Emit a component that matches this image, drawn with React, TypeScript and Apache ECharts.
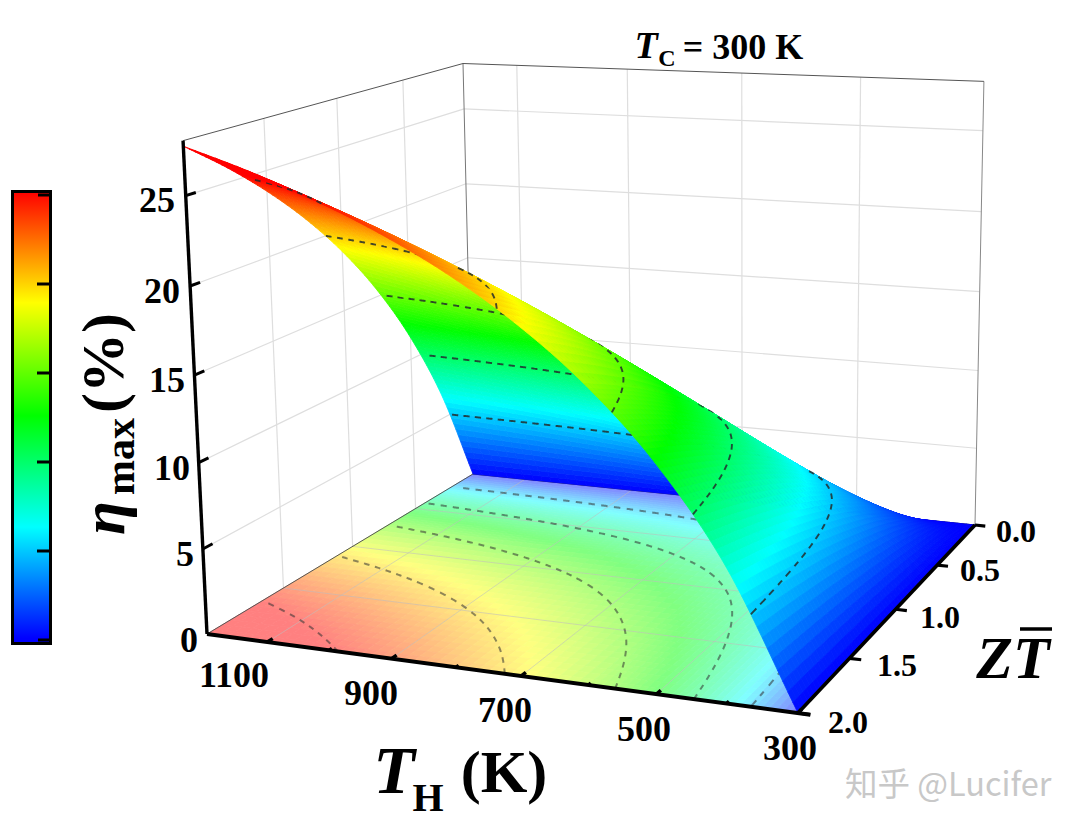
import React, { useEffect, useRef } from "react";
import * as echarts from "echarts";

// ---- data ----
const thValues = [300, 400, 500, 600, 700, 800, 900, 1000, 1100, 1200];
const ztValues = [0, 0.25, 0.5, 0.75, 1, 1.25, 1.5, 1.75, 2];
const eta300 = [0, 0, 0, 0, 0, 0, 0, 0, 0];
const eta400 = [0, 1.58, 2.85, 3.89, 4.78, 5.56, 6.23, 6.83, 7.37];
const eta500 = [0, 2.75, 4.93, 6.72, 8.23, 9.52, 10.66, 11.66, 12.56];
const eta600 = [0, 3.65, 6.51, 8.86, 10.82, 12.5, 13.96, 15.25, 16.4];
const eta700 = [0, 4.36, 7.77, 10.53, 12.84, 14.81, 16.52, 18.03, 19.36];
const eta800 = [0, 4.94, 8.78, 11.89, 14.47, 16.67, 18.57, 20.23, 21.72];
const eta900 = [0, 5.42, 9.62, 13.0, 15.8, 18.18, 20.24, 22.04, 23.63];
const eta1000 = [0, 5.83, 10.32, 13.93, 16.91, 19.44, 21.63, 23.53, 25.22];
const eta1100 = [0, 6.17, 10.91, 14.72, 17.86, 20.51, 22.8, 24.79, 26.56];
const eta1200 = [0, 6.47, 11.43, 15.4, 18.67, 21.43, 23.8, 25.87, 27.7];
const etaTable = [eta300, eta400, eta500, eta600, eta700, eta800, eta900, eta1000, eta1100, eta1200];

const contourLevels = [5, 10, 15, 20, 25];
const etaTicks = [0, 5, 10, 15, 20, 25];
const thMajor = [300, 500, 700, 900, 1100];
const thMinor = [400, 600, 800, 1000];
const ztTicks = [0, 0.5, 1, 1.5, 2];
const colorValues = [0, 6.3, 12.6, 19, 25.3];
const colorStops = [[0, 0, 255], [0, 255, 255], [0, 255, 0], [255, 255, 0], [255, 0, 0]];

const TH_MIN = 300, TH_MAX = 1200, ZT_MAX = 2, ETA_MAX = 28;
const SERIF = '"Liberation Serif"';

// ---- projective camera ----
function solve3(m: number[][], r: number[]) {
  const a = m.map((row, i) => [...row, r[i]]);
  for (let c = 0; c < 3; c++) {
    let p = c;
    for (let k = c + 1; k < 3; k++) if (Math.abs(a[k][c]) > Math.abs(a[p][c])) p = k;
    [a[c], a[p]] = [a[p], a[c]];
    for (let k = 0; k < 3; k++) {
      if (k === c) continue;
      const f = a[k][c] / a[c][c];
      for (let n = c; n < 4; n++) a[k][n] -= f * a[c][n];
    }
  }
  return [a[0][3] / a[0][0], a[1][3] / a[1][1], a[2][3] / a[2][2]];
}
const P0 = [473, 474, 1], PU = [975, 525, 1], PV = [207, 634, 1], PUV = [798, 713, 1], PW = [463, 63.5, 1];
const [sa, sb] = solve3(
  [[PU[0], PV[0], -PUV[0]], [PU[1], PV[1], -PUV[1]], [1, 1, -1]],
  [P0[0], P0[1], 1]
);
const HU = PU.map((c, k) => sa * c - P0[k]);
const HV = PV.map((c, k) => sb * c - P0[k]);
const sw = 0.965;
const HW = PW.map((c, k) => sw * c - P0[k]);

function proj(th: number, zt: number, eta: number): [number, number] {
  const u = (TH_MAX - th) / (TH_MAX - TH_MIN), v = zt / ZT_MAX, w = eta / ETA_MAX;
  const h = [0, 1, 2].map((k) => P0[k] + u * HU[k] + v * HV[k] + w * HW[k]);
  return [h[0] / h[2], h[1] / h[2]];
}

// ---- surface sampling ----
function cr(p0: number, p1: number, p2: number, p3: number, t: number) {
  return 0.5 * (2 * p1 + (p2 - p0) * t + (2 * p0 - 5 * p1 + 4 * p2 - p3) * t * t + (3 * p1 - p0 - 3 * p2 + p3) * t * t * t);
}
function node(i: number, j: number): number {
  if (i < 0) return 2 * node(0, j) - node(1, j);
  if (i > 9) return 2 * node(9, j) - node(8, j);
  if (j < 0) return 2 * node(i, 0) - node(i, 1);
  if (j > 8) return 2 * node(i, 8) - node(i, 7);
  return etaTable[i][j];
}
function etaAt(th: number, zt: number) {
  const fi = (th - 300) / 100, fj = zt / 0.25;
  const i = Math.min(8, Math.floor(fi)), j = Math.min(7, Math.floor(fj));
  const t = fi - i, s = fj - j;
  const row = [-1, 0, 1, 2].map((d) => cr(node(i + d, j - 1), node(i + d, j), node(i + d, j + 1), node(i + d, j + 2), s));
  return Math.max(0, cr(row[0], row[1], row[2], row[3], t));
}
function rgbAt(v: number): number[] {
  if (v <= colorValues[0]) return colorStops[0];
  for (let k = 1; k < colorValues.length; k++) {
    if (v <= colorValues[k]) {
      const t = (v - colorValues[k - 1]) / (colorValues[k] - colorValues[k - 1]);
      return colorStops[k - 1].map((c, n) => c + (colorStops[k][n] - c) * t);
    }
  }
  return colorStops[colorStops.length - 1];
}
const css = (c: number[]) => `rgb(${Math.round(c[0])},${Math.round(c[1])},${Math.round(c[2])})`;
const colorOf = (v: number) => css(rgbAt(v));
const paleOf = (v: number) => css(rgbAt(v).map((c) => c * 0.5 + 127.5));

// ---- contours walked into dashes ----
type Pt = { th: number; zt: number };
function contourChain(level: number): Pt[] {
  const pts: Pt[] = [];
  let a = TH_MIN, b = TH_MAX;
  for (let n = 0; n < 30; n++) {
    const m = (a + b) / 2;
    if (etaAt(m, ZT_MAX) < level) a = m; else b = m;
  }
  const start = b;
  pts.push({ th: start, zt: ZT_MAX });
  let th = start + 0.3;
  while (th <= TH_MAX) {
    let lo = 0, hi = ZT_MAX;
    for (let n = 0; n < 18; n++) {
      const m = (lo + hi) / 2;
      if (etaAt(th, m) < level) lo = m; else hi = m;
    }
    pts.push({ th, zt: hi });
    th += th < start + 150 ? 0.4 : 2;
  }
  return pts;
}
function dashes(chain: Pt[], h: number, on: number, off: number) {
  const out: { pts: [number, number][]; cell: string }[] = [];
  let cur: [number, number][] = [proj(chain[0].th, chain[0].zt, h)];
  let first = chain[0];
  let acc = 0, drawing = true;
  const cellKey = (p: Pt) => [Math.min(8, Math.floor((p.th - 300) / 100)), Math.min(7, Math.floor(p.zt / 0.25))];
  for (let k = 1; k < chain.length; k++) {
    const a = proj(chain[k - 1].th, chain[k - 1].zt, h), b = proj(chain[k].th, chain[k].zt, h);
    acc += Math.hypot(b[0] - a[0], b[1] - a[1]);
    if (drawing) {
      cur.push(b);
      if (acc >= on) {
        const c1 = cellKey(first), c2 = cellKey(chain[k]);
        const ord = (c: number[]) => c[1] * 9 + (8 - c[0]);
        const c = ord(c1) > ord(c2) ? c1 : c2;
        out.push({ pts: cur, cell: c[0] + "," + c[1] });
        drawing = false; acc = 0;
      }
    } else if (acc >= off) {
      drawing = true; acc = 0; cur = [b]; first = chain[k];
    }
  }
  return out;
}
const surfaceDashes = new Map<string, [number, number][][]>();
const floorDashes: [number, number][][] = [];
contourLevels.forEach((L) => {
  const chain = contourChain(L);
  dashes(chain, L, 5.5, 5).forEach((d) => {
    if (!surfaceDashes.has(d.cell)) surfaceDashes.set(d.cell, []);
    surfaceDashes.get(d.cell)!.push(d.pts);
  });
  dashes(chain, 0, 5.5, 5.5).forEach((d) => floorDashes.push(d.pts));
});

// ---- cells in back-to-front order, built from the tables ----
const cells: number[][] = [];
for (let j = 0; j < ztValues.length - 1; j++) {
  for (let i = thValues.length - 2; i >= 0; i--) {
    cells.push([thValues[i], ztValues[j], etaTable[i][j], i, j]);
  }
}

function cellQuads(i: number, j: number, floor: boolean) {
  const kids: any[] = [];
  const subTh = floor ? (i <= 2 ? 10 : 6) : i <= 2 ? 14 : 6;
  const subZt = floor ? (j <= 2 ? 10 : 5) : j <= 2 ? 14 : 8;
  const dth = 100 / subTh, dzt = 0.25 / subZt;
  for (let b = 0; b < subZt; b++) {
    for (let a = subTh - 1; a >= 0; a--) {
      const t0 = thValues[i] + a * dth, t1 = t0 + dth;
      const z0 = ztValues[j] + b * dzt, z1 = z0 + dzt;
      const e00 = etaAt(t0, z0), e10 = etaAt(t1, z0), e11 = etaAt(t1, z1), e01 = etaAt(t0, z1);
      const mean = (e00 + e10 + e11 + e01) / 4;
      const col = floor ? paleOf(mean) : colorOf(mean);
      const pts = floor
        ? [proj(t0, z0, 0), proj(t1, z0, 0), proj(t1, z1, 0), proj(t0, z1, 0)]
        : [proj(t0, z0, e00), proj(t1, z0, e10), proj(t1, z1, e11), proj(t0, z1, e01)];
      kids.push({ type: "polygon", silent: true, shape: { points: pts }, style: { fill: col, stroke: col, lineWidth: 0.8 } });
    }
  }
  return kids;
}
const seg = (a: [number, number], b: [number, number], stroke: string, lineWidth: number) => ({
  type: "line", silent: true,
  shape: { x1: a[0], y1: a[1], x2: b[0], y2: b[1] },
  style: { stroke, lineWidth, lineCap: "butt" },
});

function renderWalls() {
  const kids: any[] = [];
  const grid = "#dedede";
  thMajor.slice(1).forEach((th) => kids.push(seg(proj(th, 0, 0), proj(th, 0, ETA_MAX), grid, 1.2)));
  ztTicks.slice(1, 4).forEach((z) => kids.push(seg(proj(TH_MAX, z, 0), proj(TH_MAX, z, ETA_MAX), grid, 1.2)));
  etaTicks.slice(1).forEach((e) => {
    kids.push(seg(proj(TH_MAX, 2, e), proj(TH_MAX, 0, e), grid, 1.2));
    kids.push(seg(proj(TH_MAX, 0, e), proj(TH_MIN, 0, e), grid, 1.2));
  });
  kids.push(seg(proj(TH_MAX, 0, 0), proj(TH_MAX, 0, ETA_MAX), "#777", 1));
  kids.push(seg(proj(TH_MIN, 0, 0), proj(TH_MIN, 0, ETA_MAX), "#888", 1));
  kids.push(seg(proj(TH_MAX, 2, ETA_MAX), proj(TH_MAX, 0, ETA_MAX), "#555", 1));
  kids.push(seg(proj(TH_MAX, 0, ETA_MAX), proj(TH_MIN, 0, ETA_MAX), "#555", 1));
  return { type: "group", children: kids };
}
function renderFloorCell(_: any, api: any) {
  return { type: "group", children: cellQuads(api.value(3), api.value(4), true) };
}
function renderFloorMarks() {
  const kids: any[] = [];
  const line = "rgba(190,190,190,0.55)";
  thMajor.slice(1).forEach((th) => kids.push(seg(proj(th, 0, 0), proj(th, 2, 0), line, 1)));
  ztTicks.slice(1, 4).forEach((z) => kids.push(seg(proj(TH_MAX, z, 0), proj(TH_MIN, z, 0), line, 1)));
  floorDashes.forEach((p) =>
    kids.push({ type: "polyline", silent: true, shape: { points: p }, style: { fill: "none", stroke: "rgba(50,50,50,0.55)", lineWidth: 2 } })
  );
  kids.push(seg(proj(TH_MAX, 2, 0), proj(TH_MAX, 0, 0), "#555", 1));
  kids.push(seg(proj(TH_MAX, 0, 0), proj(TH_MIN, 0, 0), "#333", 1));
  return { type: "group", children: kids };
}
function renderSurfaceCell(_: any, api: any) {
  const i = api.value(3), j = api.value(4);
  const kids = cellQuads(i, j, false);
  (surfaceDashes.get(i + "," + j) || []).forEach((p) =>
    kids.push({ type: "polyline", silent: true, shape: { points: p }, style: { fill: "none", stroke: "rgba(35,45,45,0.85)", lineWidth: 1.9 } })
  );
  return { type: "group", children: kids };
}
function renderAxes() {
  const kids: any[] = [];
  kids.push(seg(proj(TH_MAX, 2, ETA_MAX), proj(TH_MAX, 2, 0), "#000", 3.4));
  kids.push(seg(proj(TH_MAX, 2, 0), proj(TH_MIN - 17, 2, 0), "#000", 4));
  kids.push(seg(proj(TH_MIN, 0, 0), proj(TH_MIN, 2, 0), "#000", 3.6));
  etaTicks.slice(1).forEach((e) => kids.push(seg(proj(TH_MAX, 2, e), proj(TH_MAX, 1.94, e), "#000", 3)));
  thMajor.forEach((th) => kids.push(seg(proj(th, 2, 0), proj(th, 1.965, 0), "#000", 3.5)));
  thMinor.forEach((th) => kids.push(seg(proj(th, 2, 0), proj(th, 1.98, 0), "#000", 3)));
  ztTicks.forEach((z) => kids.push(seg(proj(TH_MIN, z, 0), proj(TH_MIN - 17, z, 0), "#000", 3.2)));
  return { type: "group", children: kids };
}

const barTopValue = 25.3, barBottomValue = -0.3;
const barTicks = [0, 5, 10, 15, 20, 25];

function buildBarStops() {
  const span = barTopValue - barBottomValue;
  const stops = colorValues.map((v, k) => ({ offset: (barTopValue - v) / span, color: css(colorStops[k]) }));
  return stops.reverse().map((s) => s);
}

const txt = (text: string, x: number, y: number, size: number, italic = false, align = "center", rotation = 0) => ({
  type: "text", x, y, rotation, z: 20, silent: true,
  style: {
    text, fill: "#000", align, verticalAlign: "middle", textAlign: align, textVerticalAlign: "middle",
    font: `${italic ? "italic " : ""}bold ${size}px ${SERIF}`,
  },
});

export default function App() {
  const ref = useRef<HTMLDivElement>(null);
  useEffect(() => {
    const chart = echarts.init(ref.current!, null, { renderer: "svg" });
    const barY = (v: number) => 640 - v * 17.8;
    const graphic: any[] = [
      {
        type: "rect", z: 20, silent: true,
        shape: { x: 12.5, y: 191.5, width: 38, height: 452 },
        style: {
          stroke: "#000", lineWidth: 3,
          fill: new echarts.graphic.LinearGradient(0, 0, 0, 1, buildBarStops()),
        },
      },
      ...barTicks.map((t) => ({
        type: "line", z: 21, silent: true,
        shape: { x1: t === 0 || t === 25 ? 38 : 37, y1: barY(t), x2: 51, y2: barY(t) },
        style: { stroke: "#000", lineWidth: 3 },
      })),
      txt("25", 175, 200, 36, false, "right"),
      txt("20", 180, 291, 36, false, "right"),
      txt("15", 185, 380, 36, false, "right"),
      txt("10", 190, 468, 36, false, "right"),
      txt("5", 194, 554, 36, false, "right"),
      txt("0", 198, 640, 36, false, "right"),
      txt("1100", 234, 675, 36),
      txt("900", 371, 693, 36),
      txt("700", 505, 710, 36),
      txt("500", 644, 729, 36),
      txt("300", 790, 748, 36),
      txt("0.0", 1016, 531, 32),
      txt("0.5", 980, 570, 32),
      txt("1.0", 940, 617, 32),
      txt("1.5", 897, 665, 32),
      txt("2.0", 848, 722, 32),
      txt("ZT", 1013, 658, 60, true),
      {
        type: "line", z: 21, silent: true,
        shape: { x1: 1020, y1: 629, x2: 1052, y2: 629 },
        style: { stroke: "#000", lineWidth: 3.5 },
      },
      txt("T", 394, 770, 68, true),
      txt("H", 428, 797, 40),
      txt("(K)", 504, 772, 60),
      txt("T", 646, 45, 38, true),
      txt("C", 667, 58, 24),
      txt("= 300 K", 743, 47, 36),
      txt("\u03b7", 103, 535, 62, true, "left", Math.PI / 2),
      txt("max", 120, 495, 42, false, "left", Math.PI / 2),
      txt("(%)", 103, 413, 60, false, "left", Math.PI / 2),
      {
        type: "text", x: 845, y: 781, z: 20, silent: true,
        style: {
          text: "知乎 @Lucifer", fill: "#c8c8c8", textAlign: "left", textVerticalAlign: "middle",
          align: "left", verticalAlign: "middle", font: '32.5px "Noto Sans CJK SC"',
        },
      },
    ];
    chart.setOption({
      animation: false,
      backgroundColor: "#fff",
      graphic,
      series: [
        { type: "custom", z: 1, coordinateSystem: "none", silent: true, data: [[0]], renderItem: renderWalls },
        { type: "custom", z: 2, coordinateSystem: "none", silent: true, data: cells, renderItem: renderFloorCell },
        { type: "custom", z: 3, coordinateSystem: "none", silent: true, data: [[0]], renderItem: renderFloorMarks },
        { type: "custom", z: 4, coordinateSystem: "none", silent: true, data: cells, renderItem: renderSurfaceCell },
        { type: "custom", z: 5, coordinateSystem: "none", silent: true, data: [[0]], renderItem: renderAxes },
      ],
    });
    return () => chart.dispose();
  }, []);
  return <div ref={ref} style={{ position: "fixed", left: 0, top: 0, width: 1080, height: 825 }} />;
}
